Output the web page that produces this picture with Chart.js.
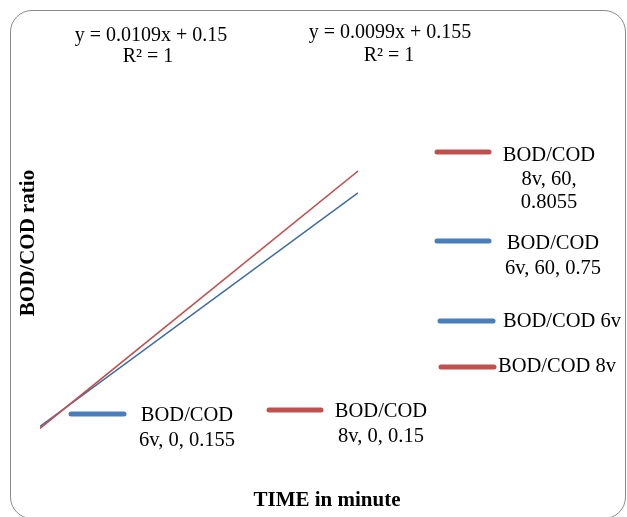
<!DOCTYPE html>
<html>
<head>
<meta charset="utf-8">
<script src="https://cdn.jsdelivr.net/npm/chart.js@4/dist/chart.umd.min.js"></script>
<style>
  html, body { margin: 0; padding: 0; background: #fff; }
  #wrap { position: relative; width: 627px; height: 517px; overflow: hidden; }
  #frame {
    position: absolute; left: 10px; top: 10px; width: 616px; height: 509px;
    border: 1.5px solid #8a8a8a; border-radius: 22px; box-sizing: border-box;
  }
  canvas { position: absolute; left: 0; top: 0; }
</style>
</head>
<body>
<div id="wrap">
  <div id="frame"></div>
  <canvas id="chart" width="627" height="517"></canvas>
</div>
<script>
var timeMin = [0, 60]
var bod8v = [0.15, 0.8055]
var bod6v = [0.155, 0.75]
var eq8v = ["y = 0.0109x + 0.15", "R² = 1"]
var eq6v = ["y = 0.0099x + 0.155", "R² = 1"]

var RED = "#c0504d"
var BLUE = "#4a7ebb"
var FONT = '"Liberation Serif", "Times New Roman", serif'

function pts(ys) {
  return timeMin.map(function (x, i) { return { x: x, y: ys[i] } })
}

// texts + excel style legend entries, drawn by hand
var overlay = {
  id: "overlay",
  afterDraw: function (chart) {
    var c = chart.ctx
    c.save()
    c.fillStyle = "#000"
    c.textBaseline = "middle"
    c.font = "20px " + FONT
    c.textAlign = "center"
    c.fillText(eq8v[0], 151, 36)
    c.fillText(eq8v[1], 148, 57)
    c.fillText(eq6v[0], 390, 33)
    c.fillText(eq6v[1], 389, 56)

    function key(x1, x2, y, col) {
      c.strokeStyle = col
      c.lineWidth = 5
      c.lineCap = "round"
      c.beginPath()
      c.moveTo(x1, y)
      c.lineTo(x2, y)
      c.stroke()
    }
    function lines(arr, x, y, align, gap) {
      gap = gap || 24
      c.textAlign = align
      arr.forEach(function (t, i) { c.fillText(t, x, y + i * gap) })
    }

    c.font = "20.5px " + FONT
    key(437, 489, 152, RED)
    lines(["BOD/COD", "8v, 60,", "0.8055"], 549, 156, "center", 23.5)
    key(437, 489, 241, BLUE)
    lines(["BOD/COD", "6v, 60, 0.75"], 553, 244, "center", 25)
    key(440, 493, 321, BLUE)
    lines(["BOD/COD 6v"], 503, 322, "left")
    key(441, 494, 367, RED)
    lines(["BOD/COD 8v"], 498, 367, "left")
    key(71, 124, 414, BLUE)
    lines(["BOD/COD", "6v, 0, 0.155"], 187, 416, "center", 25)
    key(269, 321, 410, RED)
    lines(["BOD/COD", "8v, 0, 0.15"], 381, 412, "center", 25)

    c.font = "bold 21px " + FONT
    c.textAlign = "center"
    c.fillText("TIME in minute", 327, 501)
    c.translate(29, 243)
    c.rotate(-Math.PI / 2)
    c.fillText("BOD/COD ratio", 0, 0)
    c.restore()
  }
}

var ctx = document.getElementById("chart").getContext("2d")
var myChart = new Chart(ctx, {
  type: "scatter",
  data: {
    datasets: [
      { label: "BOD/COD 8v", data: pts(bod8v), showLine: true, borderColor: RED, borderWidth: 1.6, pointRadius: 0 },
      { label: "BOD/COD 6v", data: pts(bod6v), showLine: true, borderColor: "#3d6aa3", borderWidth: 1.6, pointRadius: 0 },
    ],
  },
  options: {
    responsive: false,
    animation: false,
    layout: { padding: { left: 40, right: 269, top: 134, bottom: 69 } },
    scales: {
      x: { type: "linear", min: 0, max: 60, display: false },
      y: { min: 0.1, max: 0.9, display: false },
    },
    plugins: { legend: { display: false }, tooltip: { enabled: false } },
  },
  plugins: [overlay],
})
</script>
</body>
</html>
